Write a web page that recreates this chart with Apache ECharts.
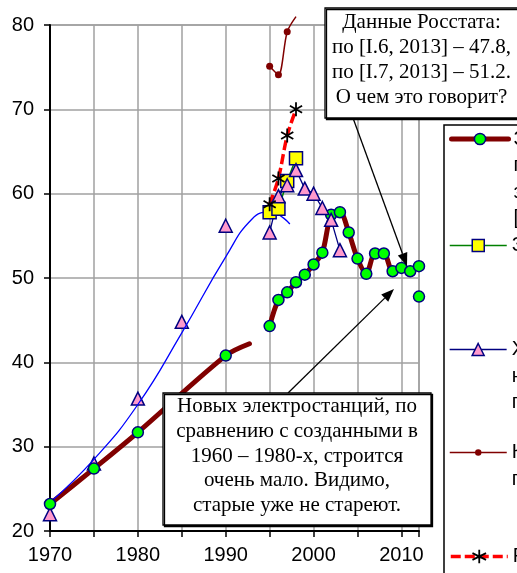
<!DOCTYPE html>
<html>
<head>
<meta charset="utf-8">
<script src="https://cdn.jsdelivr.net/npm/echarts@6/dist/echarts.min.js"></script>
<style>
html, body { margin: 0; padding: 0; background: #fff; }
#chart { width: 517px; height: 573px; }
</style>
</head>
<body>
<div id="chart"></div>
<script>
// износ: старый участок (до 1993) и новый (1995-2012)
const yearsOld = [1970, 1975, 1980, 1990];
const wearOld = [23.2, 27.4, 31.7, 40.8];
const wearOldTail = [1992.7, 42.2];
const yearsNew = [1995, 1996, 1997, 1998, 1999, 2000, 2001, 2002, 2003, 2004, 2005, 2006, 2007, 2008, 2009, 2010, 2011, 2012];
const wearNew = [44.3, 47.4, 48.3, 49.5, 50.4, 51.6, 53.0, 57.5, 57.8, 55.4, 52.3, 50.5, 52.9, 52.9, 50.8, 51.2, 50.8, 51.4];
const rosstatPoint = [2012, 47.8];

// желтые квадраты
const yearsSq = [1995, 1996, 1997, 1998];
const wearSq = [57.8, 58.2, 61.5, 64.2];

// треугольники
const yearsTriOld = [1970, 1975, 1980, 1985, 1990];
const wearTriOld = [22.0, 28.0, 35.7, 44.8, 56.2];
const yearsTriNew = [1995, 1996, 1997, 1998, 1999, 2000, 2001, 2002, 2003];
const wearTriNew = [55.4, 59.7, 61.0, 62.8, 60.6, 60.0, 58.3, 56.9, 53.3];

// синяя сглаженная кривая
const yearsTrend = [1970, 1975, 1980, 1985, 1990, 1993, 1995, 1997.3];
const wearTrend = [23.4, 28.5, 35.0, 43.5, 52.5, 57.0, 57.8, 56.4];

// тонкая темно-красная
const yearsK = [1995, 1996, 1997];
const wearK = [75.1, 74.1, 79.2];
const wearKTail = [1998, 81.0];

// красная пунктирная со звездочками
const yearsR = [1995, 1996, 1997, 1998];
const wearR = [58.75, 61.8, 66.9, 70.0];

const N1 = 'Значения износа\nпо данным,\nзаявленным в\n[I.1 – I.5]';
const N2 = 'Значения по [I.8]';
const N3 = 'Хабачев Л.Д.,\nнормативный\nподход [I.9]';
const N4 = 'Кожуховский И.С.\nпо [I.10]';
const N5 = 'Расчет [I.11]';

const zip = (xs, ys) => xs.map((x, i) => [x, ys[i]]);

const sans = '"Liberation Sans", Arial, sans-serif';
const serif = '"Liberation Serif", "Times New Roman", serif';
const grey = '#a0a0a0';
const navy = '#000080';
const star = 'path://M10 0L10 20M1.3 5L18.7 15M1.3 15L18.7 5';

const circleStyle = { color: '#00ff00', borderColor: navy, borderWidth: 1.5, opacity: 1 };
const triStyle = { color: '#ff99cc', borderColor: navy, borderWidth: 1.5, opacity: 1 };

const L = 26.5;
// symbol stays on the first text line: blank lines are put above it
function legendAt(name, yc, n, itemH) {
    return {
        data: [name],
        left: 449,
        top: yc - (2 * n - 1) * L / 2,
        orient: 'vertical',
        padding: 0,
        itemWidth: 57,
        itemHeight: itemH,
        selectedMode: false,
        itemStyle: { borderWidth: 'inherit' },
        lineStyle: { width: 'inherit' },
        formatter: nm => ' \n'.repeat(n - 1) + nm,
        textStyle: { fontFamily: sans, fontSize: 20, color: '#000', lineHeight: L }
    };
}

function arrow(x1, y1, x2, y2) {
    const dx = x2 - x1, dy = y2 - y1, len = Math.hypot(dx, dy);
    const ux = dx / len, uy = dy / len, hl = 13, hw = 5;
    const bx = x2 - ux * hl, by = y2 - uy * hl;
    return [
        { type: 'line', z: 100, shape: { x1: x1, y1: y1, x2: bx, y2: by }, style: { stroke: '#000', lineWidth: 1.3 } },
        { type: 'polygon', z: 100, shape: { points: [[x2, y2], [bx - uy * hw, by + ux * hw], [bx + uy * hw, by - ux * hw]] }, style: { fill: '#000' } }
    ];
}

function noteBox(x, y, w, h, text, fs, lh) {
    return [
        { type: 'rect', z: 100, shape: { x: x, y: y, width: w, height: h },
          style: { fill: '#fff', stroke: '#000', lineWidth: 1.3, shadowColor: '#000', shadowOffsetX: 1.5, shadowOffsetY: 1.5, shadowBlur: 0 } },
        { type: 'text', z: 101, style: { text: text, x: x + w / 2, y: y + h / 2 - 3, align: 'center', verticalAlign: 'middle',
          font: fs + 'px ' + serif, lineHeight: lh, fill: '#000' } }
    ];
}

const chart = echarts.init(document.getElementById('chart'));
chart.setOption({
    animation: false,
    backgroundColor: '#fff',
    grid: { left: 50, top: 25, right: 98, bottom: 42, show: true, borderColor: grey, borderWidth: 1.5 },
    xAxis: {
        type: 'value', min: 1970, max: 2012, interval: 5,
        axisLine: { onZero: false, lineStyle: { color: '#000', width: 2 } },
        axisTick: { length: 6, lineStyle: { color: '#000', width: 1.5 } },
        axisLabel: { margin: 14, fontFamily: sans, fontSize: 20, color: '#000',
            formatter: v => (v % 10 === 0 ? String(v) : '') },
        splitLine: { lineStyle: { color: grey, width: 1.5 } }
    },
    yAxis: {
        type: 'value', min: 20, max: 80, interval: 10,
        axisLine: { show: true, onZero: false, lineStyle: { color: '#000', width: 2 } },
        axisTick: { show: true, length: 6, lineStyle: { color: '#000', width: 1.5 } },
        axisLabel: { margin: 16, fontFamily: sans, fontSize: 20, color: '#000' },
        splitLine: { lineStyle: { color: grey, width: 1.5 } }
    },
    legend: [
        legendAt(N1, 139, 4, 14),
        legendAt(N2, 245.5, 1, 15),
        legendAt(N3, 349.5, 3, 15),
        legendAt(N4, 452.5, 2, 8),
        legendAt(N5, 556.5, 1, 17)
    ],
    series: [
        {
            name: N1, type: 'line', smooth: 0.3,
            data: zip(yearsOld, wearOld).concat([{ value: wearOldTail, symbol: 'none' }]),
            symbol: 'circle', symbolSize: 11, itemStyle: circleStyle,
            lineStyle: { color: '#800000', width: 5, cap: 'round' }
        },
        {
            name: N1, type: 'line', smooth: 0.3,
            data: zip(yearsNew, wearNew),
            symbol: 'circle', symbolSize: 11, itemStyle: circleStyle,
            lineStyle: { color: '#800000', width: 5, cap: 'round' }
        },
        {
            name: N1, type: 'scatter', data: [rosstatPoint],
            symbol: 'circle', symbolSize: 11, itemStyle: circleStyle
        },
        {
            name: 'Тренд', type: 'line', smooth: 0.5, symbol: 'none',
            data: zip(yearsTrend, wearTrend),
            lineStyle: { color: '#0000ff', width: 1.3 }
        },
        {
            name: N2, type: 'line', data: zip(yearsSq, wearSq),
            symbol: 'rect', symbolSize: 13,
            itemStyle: { color: '#ffff00', borderColor: navy, borderWidth: 1.5 },
            lineStyle: { color: '#008000', width: 1.5 }
        },
        {
            name: N3, type: 'line', data: zip(yearsTriNew, wearTriNew),
            symbol: 'triangle', symbolSize: 13, itemStyle: triStyle,
            lineStyle: { color: navy, width: 1.3 }
        },
        {
            name: N3, type: 'scatter', data: zip(yearsTriOld, wearTriOld),
            symbol: 'triangle', symbolSize: 13, itemStyle: triStyle
        },
        {
            name: N4, type: 'line', smooth: 0.3, clip: false,
            data: zip(yearsK, wearK).concat([{ value: wearKTail, symbol: 'none' }]),
            symbol: 'circle', symbolSize: 7,
            itemStyle: { color: '#800000', borderColor: '#800000', borderWidth: 0 },
            lineStyle: { color: '#800000', width: 1.5 }
        },
        {
            name: N5, type: 'line', smooth: 0.3, data: zip(yearsR, wearR),
            symbol: star, symbolSize: 14, symbolKeepAspect: true,
            itemStyle: { color: '#000', borderColor: '#000', borderWidth: 1.8 },
            lineStyle: { color: '#ff0000', width: 3.5, type: [10, 4] }
        }
    ],
    graphic: [
        { type: 'rect', shape: { x: 444, y: 125, width: 100, height: 470 },
          style: { fill: 'none', stroke: '#000', lineWidth: 1.5 } },
        ...arrow(353, 118, 407, 266),
        ...arrow(288, 393, 394, 289),
        ...noteBox(325, 8, 193, 110,
            'Данные Росстата:\nпо [I.6, 2013] – 47.8,\nпо [I.7, 2013] – 51.2.\nО чем это говорит?', 21, 24.7),
        ...noteBox(163, 393, 268, 132,
            'Новых электростанций, по\nсравнению с созданными в\n1960 – 1980-х, строится\nочень мало. Видимо,\nстарые уже не стареют.', 21, 24.8)
    ]
});
</script>
</body>
</html>
